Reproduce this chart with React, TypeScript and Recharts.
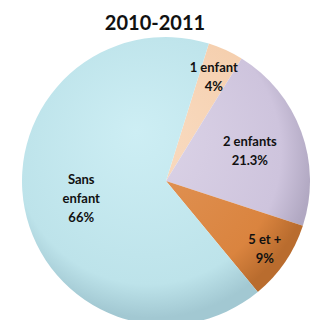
import { PieChart, Pie, Cell } from "recharts";

const categories = ["1 enfant", "2 enfants", "5 et +", "Sans enfant"];
const shares = [4, 21.3, 9, 66];
const shareLabels = ["4%", "21.3%", "9%", "66%"];

const colors = ["#f5cfae", "#cec4dd", "#da843f", "#bde3ea"];
const lightColors = ["#f9dcc2", "#ddd5e8", "#e2965a", "#cdeef4"];
const darkColors = ["#d9b391", "#b1a8c2", "#b96c2e", "#a2c8d2"];
// label placement per slice (fraction of radius), and line splits
const labelRadius = [0.8, 0.62, 0.83, 0.6];
const labelLines: string[][] = [["1 enfant"], ["2 enfants"], ["5 et +"], ["Sans", "enfant"]];

const data = categories.map((name, i) => ({ name, value: shares[i], pct: shareLabels[i] }));

const CX = 161;
const CY = 176;
const R = 144;
const RAD = Math.PI / 180;

function renderLabel(props: any) {
  const { cx, cy, midAngle, outerRadius, index } = props;
  const r = outerRadius * labelRadius[index];
  const x = cx + r * Math.cos(-midAngle * RAD);
  const y = cy + r * Math.sin(-midAngle * RAD);
  const lines = [...labelLines[index], shareLabels[index]];
  const lh = 19;
  const y0 = y - ((lines.length - 1) * lh) / 2;
  return (
    <text
      x={x}
      y={y0}
      textAnchor="middle"
      dominantBaseline="central"
      fill="#111"
      fontFamily="Lato, sans-serif"
      fontWeight="bold"
      fontSize={13}
    >
      {lines.map((l, i) => (
        <tspan key={i} x={x} dy={i === 0 ? 0 : lh}>
          {l}
        </tspan>
      ))}
    </text>
  );
}

export default function App() {
  return (
    <div style={{ position: "absolute", left: 0, top: 0, width: 310, height: 320, background: "#fff" }}>
      <div
        style={{
          position: "absolute",
          left: 0,
          top: 10,
          width: 310,
          textAlign: "center",
          fontFamily: "Lato, sans-serif",
          fontWeight: "bold",
          fontSize: 20,
          color: "#111",
          lineHeight: "24px",
        }}
      >
        2010-2011
      </div>
      <PieChart width={310} height={320} style={{ position: "absolute", left: 0, top: 0 }}>
        <defs>
          {colors.map((c, i) => (
            <radialGradient
              key={i}
              id={`g${i}`}
              gradientUnits="userSpaceOnUse"
              cx={CX - 10}
              cy={CY - 20}
              r={R + 18}
              fx={CX - 25}
              fy={CY - 45}
            >
              <stop offset="0%" stopColor={lightColors[i]} />
              <stop offset="82%" stopColor={c} />
              <stop offset="100%" stopColor={darkColors[i]} />
            </radialGradient>
          ))}
        </defs>
        <Pie
          data={data}
          dataKey="value"
          nameKey="name"
          cx={CX}
          cy={CY}
          outerRadius={R}
          startAngle={72.7}
          endAngle={72.7 - 360}
          stroke="none"
          label={renderLabel}
          labelLine={false}
          isAnimationActive={false}
        >
          {data.map((d, i) => (
            <Cell key={d.name} fill={`url(#g${i})`} />
          ))}
        </Pie>
      </PieChart>
    </div>
  );
}
